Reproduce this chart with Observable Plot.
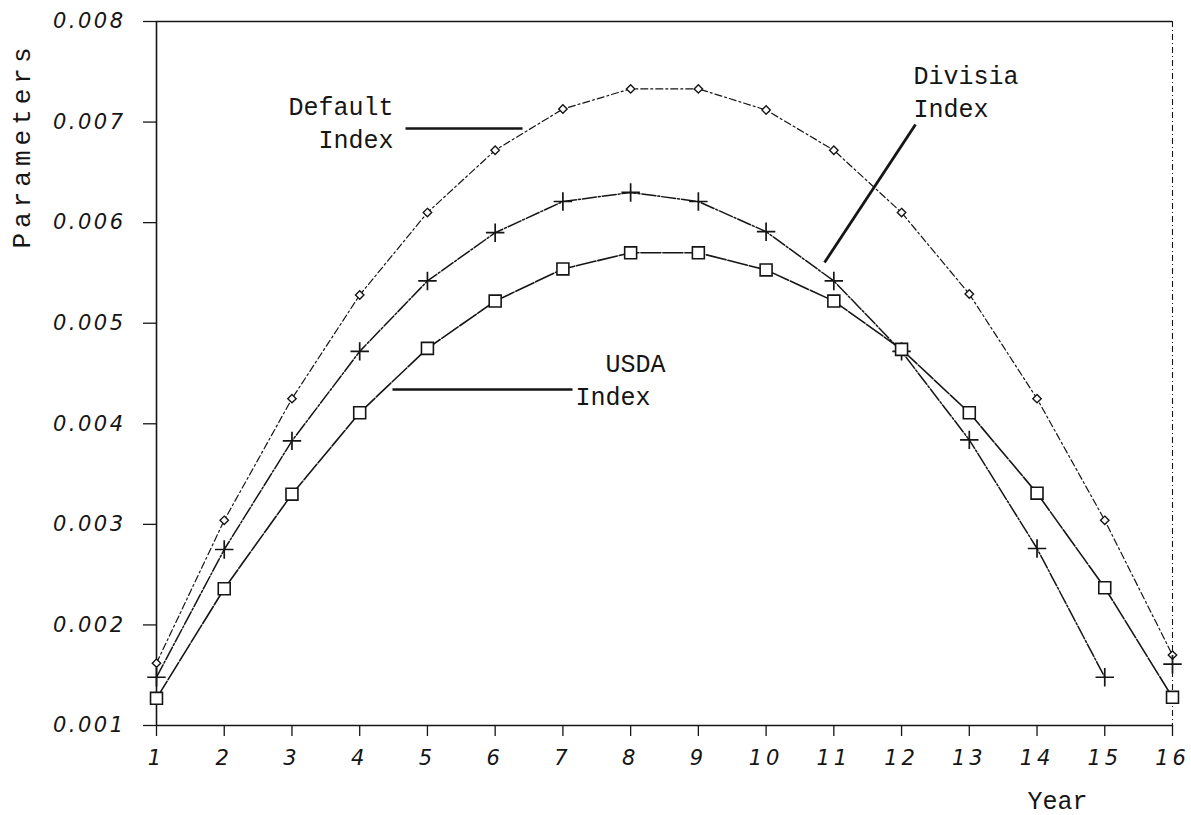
<!DOCTYPE html>
<html>
<head>
<meta charset="utf-8">
<script src="https://cdn.jsdelivr.net/npm/d3@7"></script>
<script src="https://cdn.jsdelivr.net/npm/@observablehq/plot@0.6"></script>
<style>
  html, body { margin: 0; padding: 0; background: #fff; }
</style>
</head>
<body>
<div id="chart"></div>
<script>
// ---- data ----
const years = [1, 2, 3, 4, 5, 6, 7, 8, 9, 10, 11, 12, 13, 14, 15, 16];
const defaultIndex = [0.00162, 0.00304, 0.00425, 0.00528, 0.00610, 0.00672, 0.00713, 0.00733,
                      0.00733, 0.00712, 0.00672, 0.00610, 0.00529, 0.00425, 0.00304, 0.00170];
const divisiaIndex = [0.00148, 0.00275, 0.00383, 0.00472, 0.00542, 0.00590, 0.00621, 0.00630,
                      0.00621, 0.00591, 0.00542, 0.00472, 0.00384, 0.00276, 0.00148, 0.00161];
const usdaIndex = [0.00127, 0.00236, 0.00330, 0.00411, 0.00475, 0.00522, 0.00554, 0.00570,
                   0.00570, 0.00553, 0.00522, 0.00474, 0.00411, 0.00331, 0.00237, 0.00128];
const yTicks = [0.001, 0.002, 0.003, 0.004, 0.005, 0.006, 0.007, 0.008];
const xTicks = years;
const divisiaLineEnd = 15; // Divisia curve is drawn through year 15; year 16 is a lone marker

const seriesDefault = years.map((x, i) => ({x, y: defaultIndex[i]}));
const seriesDivisia = years.map((x, i) => ({x, y: divisiaIndex[i]}));
const seriesUsda = years.map((x, i) => ({x, y: usdaIndex[i]}));

const monoFont = "Liberation Mono, DejaVu Sans Mono, monospace";
const tickFont = "DejaVu Sans, sans-serif";
const ink = "#151515";

const chart = Plot.plot({
  width: 1191,
  height: 815,
  marginLeft: 156,
  marginRight: 19,
  marginTop: 21,
  marginBottom: 90,
  style: {background: "#fff", color: ink},
  x: {domain: [1, 16], axis: null},
  y: {domain: [0.001, 0.008], axis: null},
  marks: [
    Plot.axisY({ticks: yTicks, tickFormat: d3.format(".3f"), tickSize: 13, tickPadding: 18,
      fontSize: 21, fontFamily: tickFont, fontStyle: "italic", label: null, stroke: ink, strokeWidth: 1.3}),
    Plot.axisX({ticks: xTicks, tickFormat: d => String(d), tickSize: 11, tickPadding: 14,
      fontSize: 21, fontFamily: tickFont, fontStyle: "italic", label: null, stroke: ink, strokeWidth: 1.3}),
    Plot.ruleX([1], {stroke: ink, strokeWidth: 1.6}),
    Plot.ruleY([0.001], {stroke: ink, strokeWidth: 1.6}),
    Plot.ruleY([0.008], {stroke: ink, strokeWidth: 1.6}),
    Plot.ruleX([16], {stroke: ink, strokeWidth: 1.1, strokeDasharray: "6,3,1,3"}),

    // series lines
    Plot.line(seriesDefault, {x: "x", y: "y", stroke: ink, strokeWidth: 1.2, strokeDasharray: "7,3,2,3"}),
    Plot.line(seriesDivisia.filter(d => d.x <= divisiaLineEnd), {x: "x", y: "y", stroke: ink, strokeWidth: 1.5, strokeDasharray: "14,2,2,2"}),
    Plot.line(seriesUsda, {x: "x", y: "y", stroke: ink, strokeWidth: 1.6, strokeDasharray: "20,2"}),

    // markers
    Plot.dot(seriesDefault, {x: "x", y: "y", symbol: "diamond2", r: 3.8, stroke: ink, strokeWidth: 1.4, fill: "white"}),
    Plot.dot(seriesDivisia, {x: "x", y: "y", symbol: "plus", r: 6, stroke: ink, strokeWidth: 1.7}),
    Plot.dot(seriesUsda, {x: "x", y: "y", symbol: "square2", r: 7.6, stroke: ink, strokeWidth: 1.6, fill: "white"}),

    // annotations
    Plot.text(["Default\nIndex"], {x: 4.5, y: 0.00701, textAnchor: "end", lineAnchor: "middle",
      lineHeight: 1.3, fontSize: 25, fontFamily: monoFont, fill: ink}),
    Plot.link([{x1: 4.676, x2: 6.404, y1: 0.006936, y2: 0.006936}],
      {x1: "x1", y1: "y1", x2: "x2", y2: "y2", stroke: ink, strokeWidth: 2.4}),

    Plot.text(["Divisia\nIndex"], {x: 12.177, y: 0.007319, textAnchor: "start", lineAnchor: "middle",
      lineHeight: 1.3, fontSize: 25, fontFamily: monoFont, fill: ink}),
    Plot.link([{x1: 12.206, y1: 0.006976, x2: 10.863, y2: 0.005604}],
      {x1: "x1", y1: "y1", x2: "x2", y2: "y2", stroke: ink, strokeWidth: 2.8}),

    Plot.text(["USDA"], {x: 8.072, y: 0.00459, textAnchor: "middle", lineAnchor: "middle",
      fontSize: 25, fontFamily: monoFont, fill: ink}),
    Plot.text(["Index"], {x: 7.186, y: 0.004271, textAnchor: "start", lineAnchor: "middle",
      fontSize: 25, fontFamily: monoFont, fill: ink}),
    Plot.link([{x1: 4.484, x2: 7.142, y1: 0.004341, y2: 0.004341}],
      {x1: "x1", y1: "y1", x2: "x2", y2: "y2", stroke: ink, strokeWidth: 2.4}),

    // axis titles
    Plot.text(["Parameters"], {frameAnchor: "top-left", dx: -135, dy: 124, rotate: -90,
      textAnchor: "middle", lineAnchor: "middle", fontSize: 26, fontFamily: monoFont, fill: ink}),
    Plot.text(["Year"], {frameAnchor: "bottom-right", dx: -85, dy: 75,
      textAnchor: "end", lineAnchor: "middle", fontSize: 25, fontFamily: monoFont, fill: ink})
  ]
});

document.getElementById("chart").appendChild(chart);

// letter spacing tweaks to mimic the typewriter/plotter lettering
chart.querySelectorAll('g[aria-label="y-axis tick label"] text').forEach(t => t.setAttribute("letter-spacing", "2.5"));
chart.querySelectorAll('g[aria-label="x-axis tick label"] text').forEach(t => t.setAttribute("letter-spacing", "4"));
chart.querySelectorAll("text").forEach(t => {
  if (t.textContent === "Parameters") t.setAttribute("letter-spacing", "5");
});
</script>
</body>
</html>
